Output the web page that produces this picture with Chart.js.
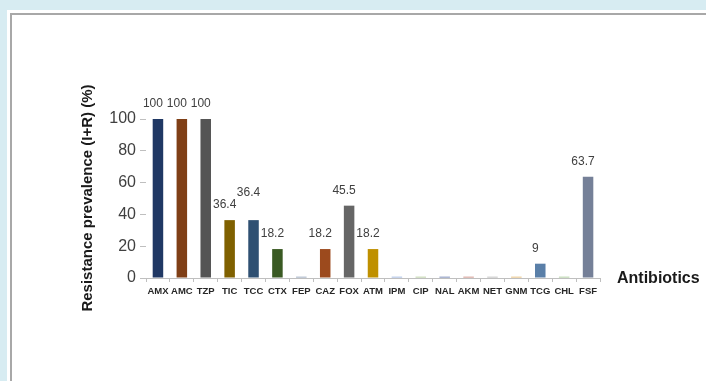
<!DOCTYPE html>
<html lang="en">
<head>
    <meta charset="UTF-8">
    <title>Resistance prevalence by antibiotic</title>
    <script src="https://cdn.jsdelivr.net/npm/chart.js"></script>
    <style>
        body {
            margin: 0;
            padding: 0;
            width: 706px;
            height: 381px;
            overflow: hidden;
            background-color: #d7ecf2;
            position: relative;
            font-family: "Liberation Sans", Arial, sans-serif;
        }
        .sheet {
            position: absolute;
            left: 7px;
            top: 10px;
            width: 720px;
            height: 400px;
            background: #fff;
        }
        .frame {
            position: absolute;
            left: 10px;
            top: 13px;
            width: 720px;
            height: 400px;
            border-left: 2px solid #a8a8a8;
            border-top: 2px solid #a8a8a8;
        }
        #resChart {
            position: absolute;
            left: 0;
            top: 0;
        }
    </style>
</head>
<body>
    <div class="sheet"></div>
    <div class="frame"></div>
    <canvas id="resChart" width="706" height="381"></canvas>

    <script>
        // antibiotic codes on the x axis
        const antibiotics = ['AMX', 'AMC', 'TZP', 'TIC', 'TCC', 'CTX', 'FEP', 'CAZ', 'FOX', 'ATM',
                             'IPM', 'CIP', 'NAL', 'AKM', 'NET', 'GNM', 'TCG', 'CHL', 'FSF'];
        // resistance prevalence (I+R) in %
        const prevalence = [100, 100, 100, 36.4, 36.4, 18.2, 0.8, 18.2, 45.5, 18.2,
                            0.8, 0.8, 0.8, 0.8, 0.8, 0.8, 9, 0.8, 63.7];
        // labels written above the bars (empty for the near-zero ones)
        const valueLabels = ['100', '100', '100', '36.4', '36.4', '18.2', '', '18.2', '45.5', '18.2',
                             '', '', '', '', '', '', '9', '', '63.7'];
        const barColors = ['#203864', '#7f3f16', '#555555', '#7f6000', '#2f5072', '#3a5a23', '#8497b0',
                           '#9c4a1d', '#666666', '#bf9000', '#8ea9db', '#a9c48e', '#5b6fa6', '#c47b6f',
                           '#b0b0b0', '#e0b060', '#5a7fa8', '#9cc38a', '#758098'];
        const yTicks = [0, 20, 40, 60, 80, 100];

        const fontFamily = '"Liberation Sans", Arial, sans-serif';

        // values above bars + axis titles
        const textPlugin = {
            id: 'textPlugin',
            afterDatasetsDraw(chart) {
                const ctx = chart.ctx;
                const meta = chart.getDatasetMeta(0);
                ctx.save();
                ctx.fillStyle = '#404040';
                ctx.font = '12px ' + fontFamily;
                ctx.textAlign = 'center';
                ctx.textBaseline = 'middle';
                let prev = null;
                meta.data.forEach((bar, i) => {
                    if (!valueLabels[i]) return;
                    const w = ctx.measureText(valueLabels[i]).width;
                    let x = bar.x - 5;
                    let y = bar.y - 15;
                    // bump up when it would run into the previous label
                    if (prev && Math.abs(prev.y - y) < 12 && x - w / 2 < prev.x + prev.w / 2 + 2) {
                        y = prev.y - 12;
                    }
                    ctx.fillText(valueLabels[i], x, y);
                    prev = { x, y, w };
                });

                // x axis title sits to the right of the axis
                const area = chart.chartArea;
                ctx.fillStyle = '#1a1a1a';
                ctx.font = 'bold 16px ' + fontFamily;
                ctx.textAlign = 'left';
                ctx.fillText('Antibiotics', area.right + 17, area.bottom + 1);

                // y axis title
                ctx.translate(88, 198);
                ctx.rotate(-Math.PI / 2);
                ctx.textAlign = 'center';
                ctx.font = 'bold 15px ' + fontFamily;
                ctx.fillText('Resistance prevalence (I+R) (%)', 0, 0);
                ctx.restore();
            }
        };

        const ctx = document.getElementById('resChart').getContext('2d');
        const resChart = new Chart(ctx, {
            type: 'bar',
            data: {
                labels: antibiotics,
                datasets: [{
                    data: prevalence,
                    backgroundColor: barColors,
                    borderWidth: 0,
                    barPercentage: 0.88,
                    categoryPercentage: 0.5
                }]
            },
            options: {
                responsive: false,
                animation: false,
                layout: {
                    padding: { top: 119, right: 106, bottom: 73, left: 0 }
                },
                plugins: {
                    legend: { display: false },
                    tooltip: { enabled: false }
                },
                scales: {
                    x: {
                        afterFit: (scale) => { scale.height = 30; },
                        grid: {
                            offset: true,
                            drawOnChartArea: false,
                            drawTicks: true,
                            tickLength: 4,
                            color: '#bfbfbf'
                        },
                        border: { display: true, color: '#bfbfbf' },
                        ticks: {
                            autoSkip: false,
                            maxRotation: 0,
                            padding: 4,
                            color: '#262626',
                            font: { family: fontFamily, size: 9.5, weight: 'bold' }
                        }
                    },
                    y: {
                        min: 0,
                        max: 100,
                        afterFit: (scale) => { scale.width = 146; },
                        afterBuildTicks: (scale) => {
                            scale.ticks = yTicks.map(v => ({ value: v }));
                        },
                        grid: {
                            drawOnChartArea: false,
                            drawTicks: true,
                            tickLength: 6,
                            color: '#bfbfbf'
                        },
                        border: { display: false },
                        ticks: {
                            padding: 4,
                            color: '#404040',
                            font: { family: fontFamily, size: 16 }
                        }
                    }
                }
            },
            plugins: [textPlugin]
        });
    </script>
</body>
</html>
